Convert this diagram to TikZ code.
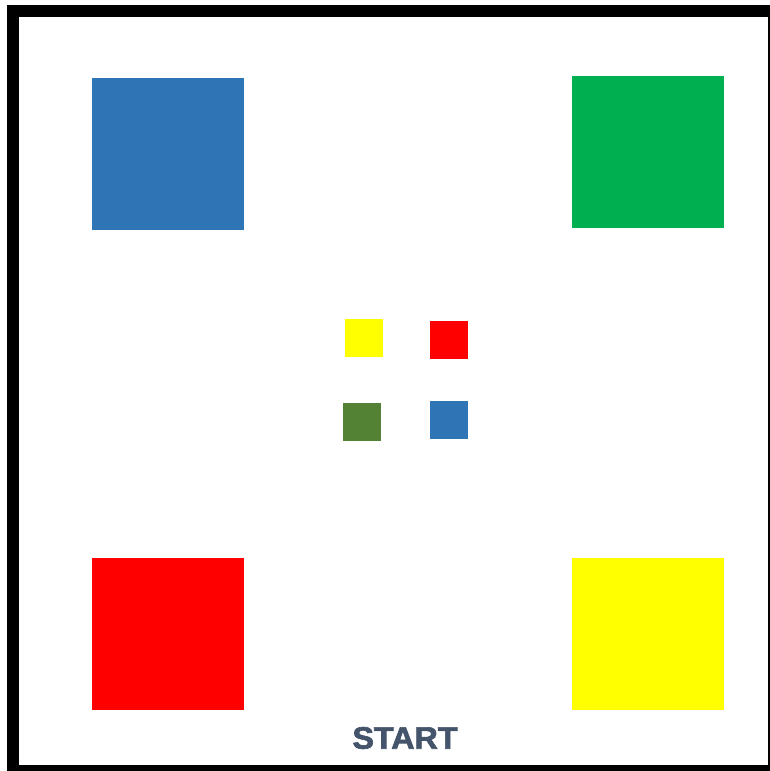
\documentclass[tikz,border=0pt]{standalone}
\usepackage{fontspec}
\setmainfont{Liberation Sans}
\newfontfamily\startfont[FakeBold=2.2]{Liberation Sans Bold}
\definecolor{homeblue}{HTML}{2E75B6}
\definecolor{homegreen}{HTML}{00B050}
\definecolor{homered}{HTML}{FF0000}
\definecolor{homeyellow}{HTML}{FFFF00}
\definecolor{homeolive}{HTML}{548235}
\definecolor{startgray}{HTML}{44546A}

\begin{document}
\begin{tikzpicture}[
  x=1pt, y=-1pt,
  % Square styles
  home/.style={
    rectangle,
    draw=none,
    minimum size=152pt,
    inner sep=0pt,
  },
  token/.style={
    rectangle,
    draw=none,
    minimum size=38pt,
    inner sep=0pt,
  },
  % Board frame
  frame/.style={
    draw=black,
    line width=12pt,
  },
]

  \useasboundingbox (0,0) rectangle (769,771);

  % Frame (right and bottom edges run off the page)
  \draw[frame] (13,11) rectangle (774,771);

  % Corner homes
  \node[home, fill=homeblue]   (home-blue)   at (168,154) {};
  \node[home, fill=homegreen]  (home-green)  at (648,152) {};
  \node[home, fill=homered]    (home-red)    at (168,634) {};
  \node[home, fill=homeyellow] (home-yellow) at (648,634) {};

  % Tokens in the middle
  \node[token, fill=homeyellow] (tok-yellow) at (364,338) {};
  \node[token, fill=homered]    (tok-red)    at (449,340) {};
  \node[token, fill=homeolive]  (tok-green)  at (362,422) {};
  \node[token, fill=homeblue]   (tok-blue)   at (449,420) {};

  % Start label
  \node[font=\startfont\fontsize{31}{31}\selectfont, text=startgray,
        inner sep=0pt, xscale=1.04] (start) at (405,738) {START};

\end{tikzpicture}
\end{document}
